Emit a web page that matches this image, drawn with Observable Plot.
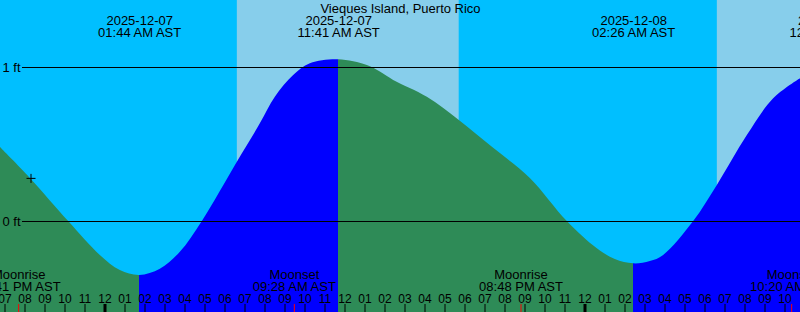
<!DOCTYPE html>
<html><head><meta charset="utf-8">
<script src="https://cdn.jsdelivr.net/npm/d3@7"></script>
<script src="https://cdn.jsdelivr.net/npm/@observablehq/plot@0.6"></script>
<style>
html,body{margin:0;padding:0;background:#00bfff;}
#chart svg{display:block;}
</style></head><body><div id="chart"></div>
<script>
// ---- data ----
const title = "Vieques Island, Puerto Rico";
const viewStart = "2025-12-06T18:46:30";
const viewEnd = "2025-12-08T10:46:30";

const tideTimes = [
  "2025-12-06T18:46:30","2025-12-06T20:16","2025-12-06T22:11","2025-12-06T23:46",
  "2025-12-07T00:46","2025-12-07T01:44","2025-12-07T02:46","2025-12-07T03:46",
  "2025-12-07T04:52","2025-12-07T06:37","2025-12-07T07:46","2025-12-07T08:31",
  "2025-12-07T09:26","2025-12-07T10:16","2025-12-07T11:41","2025-12-07T13:07",
  "2025-12-07T13:46","2025-12-07T14:26","2025-12-07T16:07","2025-12-07T17:43","2025-12-07T19:26",
  "2025-12-07T21:16","2025-12-07T23:07","2025-12-08T00:37","2025-12-08T01:31",
  "2025-12-08T02:26","2025-12-08T03:16","2025-12-08T03:56","2025-12-08T05:26",
  "2025-12-08T06:37","2025-12-08T08:07","2025-12-08T09:26","2025-12-08T10:46:30"
];
const tideFeet = [
  0.48, 0.28, 0.00, -0.22,
  -0.318, -0.35, -0.31, -0.20,
  0.00, 0.385, 0.634, 0.807,
  0.948, 1.024, 1.05, 1.013,
  0.97, 0.916, 0.807, 0.656, 0.475,
  0.28, 0.00, -0.177, -0.247,
  -0.275, -0.26, -0.22, 0.00,
  0.234, 0.558, 0.797, 0.927
];

const tideEventTimes = ["2025-12-07T01:44","2025-12-07T11:41","2025-12-08T02:26","2025-12-08T12:19"];
const tideEventLabels = ["2025-12-07\n01:44 AM AST","2025-12-07\n11:41 AM AST","2025-12-08\n02:26 AM AST","2025-12-08\n12:19 PM AST"];

const sunTimes = ["2025-12-07T06:37","2025-12-07T17:43","2025-12-08T06:37"];
const sunKinds = ["sunrise","sunset","sunrise"];

const moonTimes = ["2025-12-06T19:41","2025-12-07T09:28","2025-12-07T20:48","2025-12-08T10:20"];
const moonLabels = ["Moonrise\n07:41 PM AST","Moonset\n09:28 AM AST","Moonrise\n08:48 PM AST","Moonset\n10:20 AM AST"];

const levelTicks = [0, 1];
const levelLabels = ["0 ft", "1 ft"];

const markTime = "2025-12-06T20:18";
const markFeet = 0.28;

// ---- colors ----
const nightColor = "#00bfff", dayColor = "#87ceeb";
const risingColor = "#0000ff", fallingColor = "#2e8b57";

// ---- build ----
const P = s => new Date(s + "Z");
const t0 = P(viewStart), t1 = P(viewEnd);
const tide = tideTimes.map((t, i) => ({t: P(t), h: tideFeet[i]}));
const events = tideEventTimes.map((t, i) => ({t: P(t), label: tideEventLabels[i]}));
const moon = moonTimes.map((t, i) => ({t: P(t), label: moonLabels[i]}));

// day / night bands
const bounds = [t0, ...sunTimes.map(P), t1];
const bands = [];
for (let i = 0; i < bounds.length - 1; i++) {
  const kind = i === 0 ? (sunKinds[0] === "sunrise" ? "night" : "day")
                       : (sunKinds[i - 1] === "sunrise" ? "day" : "night");
  bands.push({a: bounds[i], b: bounds[i + 1], kind});
}

const hourTicks = d3.utcHour.range(d3.utcHour.ceil(t0), t1);
const yDomain = [-91 / 154, 221 / 154];

const plusSymbol = {draw(ctx) { const r = 4.5; ctx.moveTo(-r, 0); ctx.lineTo(r, 0); ctx.moveTo(0, -r); ctx.lineTo(0, r); }};
const FS = 13, LH = 12 / 13;

const plot = Plot.plot({
  width: 800, height: 312,
  marginTop: 0, marginRight: 0, marginBottom: 0, marginLeft: 0,
  style: {fontFamily: "'Liberation Sans', Arial, sans-serif", fontSize: "12px", background: "none", color: "black"},
  x: {type: "utc", domain: [t0, t1], axis: null},
  y: {domain: yDomain, axis: null},
  marks: [
    Plot.rect(bands, {x1: "a", x2: "b", fill: d => d.kind === "day" ? dayColor : nightColor}),
    Plot.areaY(tide, {x: "t", y1: yDomain[0], y2: "h", curve: "catmull-rom", fill: "url(#tideFill)"}),
    Plot.ruleY(levelTicks, {stroke: "black", insetLeft: 22}),
    Plot.text(levelTicks, {x: () => t0, y: d => d, text: (d, i) => levelLabels[i], textAnchor: "end", dx: 20, fontSize: FS}),
    Plot.dot([{t: P(markTime), h: markFeet}], {x: "t", y: "h", symbol: plusSymbol, stroke: "black", fill: "none", strokeWidth: 1}),
    Plot.ruleX(hourTicks, {x: d => d, insetTop: 304, stroke: "black", strokeWidth: d => d.getUTCHours() === 0 ? 3 : 1}),
    Plot.ruleX(moon, {x: "t", insetTop: 304, stroke: "red", strokeWidth: 1}),
    Plot.text(hourTicks, {x: d => d, text: d => d3.utcFormat("%I")(d), frameAnchor: "bottom", dy: -10, lineAnchor: "bottom", fontSize: 12}),
    Plot.text(moon, {x: "t", text: "label", frameAnchor: "bottom", dy: -22, lineAnchor: "bottom", fontSize: FS, lineHeight: LH}),
    Plot.text(events, {x: "t", text: "label", frameAnchor: "top", dy: 36, lineAnchor: "bottom", fontSize: FS, lineHeight: LH}),
    Plot.text([title], {frameAnchor: "top", dy: 12, lineAnchor: "bottom", fontSize: FS})
  ]
});

// rising / falling fill via gradient with hard stops at the tide extremes
const xs = plot.scale("x");
const ns = "http://www.w3.org/2000/svg";
const defs = document.createElementNS(ns, "defs");
const grad = document.createElementNS(ns, "linearGradient");
grad.setAttribute("id", "tideFill");
grad.setAttribute("gradientUnits", "userSpaceOnUse");
grad.setAttribute("x1", 0); grad.setAttribute("x2", 800);
grad.setAttribute("y1", 0); grad.setAttribute("y2", 0);
const extremes = events.map(e => e.t);
let color = fallingColor; // before first low: falling
const addStop = (off, c) => {
  const s = document.createElementNS(ns, "stop");
  s.setAttribute("offset", Math.max(0, Math.min(1, off)));
  s.setAttribute("stop-color", c);
  grad.appendChild(s);
};
addStop(0, color);
for (const e of extremes) {
  const off = xs.apply(e) / 800;
  addStop(off, color);
  color = color === fallingColor ? risingColor : fallingColor;
  addStop(off, color);
}
addStop(1, color);
defs.appendChild(grad);
plot.insertBefore(defs, plot.firstChild);

document.getElementById("chart").appendChild(plot);
</script>
</body></html>
